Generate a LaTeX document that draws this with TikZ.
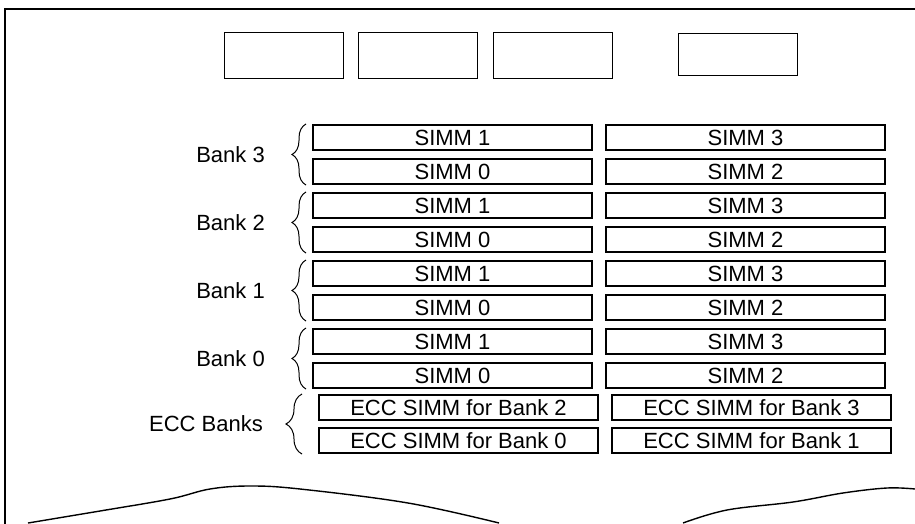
\documentclass[tikz,border=0pt]{standalone}
\usepackage{fontspec}
\setmainfont{Liberation Sans}
\usetikzlibrary{decorations.pathreplacing}
\begin{document}
\begin{tikzpicture}[x=1pt,y=-1pt,
  outline/.style={line width=1.6pt},
  topbox/.style={draw,line width=1pt,minimum width=119pt,minimum height=46pt,inner sep=0pt},
  simm/.style={draw,line width=1.2pt,minimum width=279pt,minimum height=25pt,inner sep=0pt,font=\fontsize{22}{25}\selectfont},
  lbl/.style={anchor=east,inner sep=0pt,font=\fontsize{22}{25}\selectfont},
  brc/.style={decorate,decoration={brace,amplitude=14pt},line width=1pt}]
\useasboundingbox (0,0) rectangle (915,524);
% outline
\coordinate (tl) at (5,9);
\coordinate (tr) at (915,9);
\coordinate (bl) at (5,524);
\draw[outline] (tr) -- (tl) -- (bl);
% top boxes
\node[topbox] (t1) at (283.5,55.5) {};
\node[topbox] (t2) at (418,55.5) {};
\node[topbox] (t3) at (553,55.5) {};
\node[topbox,minimum height=42pt] (t4) at (737.5,55) {};
% SIMM rows
\foreach \b/\y in {3/137.5,2/205.5,1/273.5,0/341.5}{
  \node[simm] (L\b a) at (452.5,\y) {SIMM 1};
  \node[simm] (L\b b) at (452.5,\y+34) {SIMM 0};
  \node[simm] (R\b a) at (745.5,\y) {SIMM 3};
  \node[simm] (R\b b) at (745.5,\y+34) {SIMM 2};
  \coordinate (B\b t) at (306,\y-13.5);
  \coordinate (B\b b) at (306,\y+47.5);
  \draw[brc] (B\b b) -- (B\b t);
  \node[lbl] (N\b) at (265,\y+17) {Bank \b};
}
\node[simm] (E2) at (458.5,407.5) {ECC SIMM for Bank 2};
\node[simm] (E0) at (458.5,440.5) {ECC SIMM for Bank 0};
\node[simm] (E3) at (751.5,407.5) {ECC SIMM for Bank 3};
\node[simm] (E1) at (751.5,440.5) {ECC SIMM for Bank 1};
\coordinate (ECt) at (302,394);
\coordinate (ECb) at (302,454);
\draw[brc,decoration={brace,amplitude=16pt}] (ECb) -- (ECt);
\node[lbl] (NE) at (263,424) {ECC Banks};
% bottom wavy edges
\draw[outline,line width=1.4pt] plot[smooth,tension=0.6] coordinates {(28,523) (100,511) (170,499) (210,489) (250,486) (300,489) (408,503) (499,523)};
\draw[outline,line width=1.4pt] plot[smooth,tension=0.6] coordinates {(683,523) (727,510) (793,502) (843,493) (887,488) (915,489)};
\end{tikzpicture}
\end{document}
